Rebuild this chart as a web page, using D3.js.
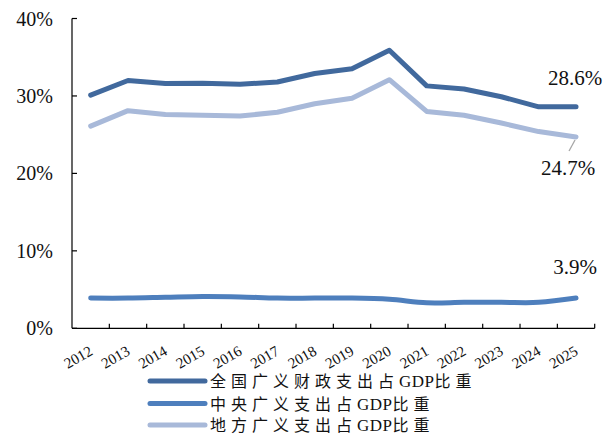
<!DOCTYPE html>
<html>
<head>
<meta charset="utf-8">
<script src="https://cdn.jsdelivr.net/npm/d3@7/dist/d3.min.js"></script>
<style>
  html, body { margin: 0; padding: 0; background: #fff; }
  svg { display: block; }
</style>
</head>
<body>
<svg id="chart" width="612" height="439" font-family="'Liberation Serif', 'DejaVu Serif', serif"></svg>
<script>
// Years on the category axis
const years = ["2012","2013","2014","2015","2016","2017","2018","2019","2020","2021","2022","2023","2024","2025"];

// Share of GDP (%) for each series
const totalSpend   = [30.1, 32.0, 31.6, 31.65, 31.5, 31.8, 32.9, 33.5, 35.9, 31.3, 30.9, 29.9, 28.6, 28.6];
const centralSpend = [3.9, 3.9, 4.0, 4.1, 4.05, 3.9, 3.9, 3.9, 3.75, 3.3, 3.35, 3.35, 3.35, 3.9];
const localSpend   = [26.1, 28.1, 27.6, 27.5, 27.4, 27.9, 29.0, 29.7, 32.1, 28.0, 27.5, 26.5, 25.4, 24.7];

const yTicks = [0, 10, 20, 30, 40];

// Legend names split into runs: CJK runs are spaced out, Latin runs are set tight
const seriesNames = [
  ["全国广义财政支出占", "GDP", "比重"],
  ["中央广义支出占", "GDP", "比重"],
  ["地方广义支出占", "GDP", "比重"]
];
const seriesColors = ["#41699d", "#4e7fbd", "#a8b9d9"];

const serif = "'Liberation Serif', 'Times New Roman', serif";
const cjk = "'Liberation Serif', 'Noto Sans CJK SC', serif";

const svg = d3.select("#chart");

const x = d3.scaleBand().domain(years).range([72, 594.7]);
const y = d3.scaleLinear().domain([0, 40]).range([328.3, 18.5]);
const cx = d => x(d) + x.bandwidth() / 2;

// Y axis: line, inward ticks, percentage labels
const yAxis = svg.append("g");
yAxis.append("line")
  .attr("x1", 72).attr("x2", 72)
  .attr("y1", y(40)).attr("y2", y(0))
  .attr("stroke", "#000").attr("stroke-width", 1.2);
yAxis.selectAll("line.tick").data(yTicks).enter().append("line")
  .attr("class", "tick")
  .attr("x1", 72).attr("x2", 77)
  .attr("y1", d => y(d)).attr("y2", d => y(d))
  .attr("stroke", "#000").attr("stroke-width", 1.2);
yAxis.selectAll("text").data(yTicks).enter().append("text")
  .attr("x", 53).attr("y", d => y(d) + 7)
  .attr("text-anchor", "end")
  .attr("font-family", serif)
  .attr("font-size", 20)
  .attr("fill", "#111")
  .text(d => d + "%");

// X axis: baseline, inward ticks at category boundaries, rotated year labels
const xAxis = svg.append("g");
xAxis.append("line")
  .attr("x1", 72).attr("x2", 594.7)
  .attr("y1", y(0)).attr("y2", y(0))
  .attr("stroke", "#000").attr("stroke-width", 1.2);
const boundaries = years.map(d => x(d) + x.bandwidth());
xAxis.selectAll("line.tick").data(boundaries).enter().append("line")
  .attr("class", "tick")
  .attr("x1", d => d).attr("x2", d => d)
  .attr("y1", y(0)).attr("y2", y(0) - 4.5)
  .attr("stroke", "#000").attr("stroke-width", 1.2);
xAxis.selectAll("text").data(years).enter().append("text")
  .attr("text-anchor", "end")
  .attr("font-family", serif)
  .attr("font-size", 15)
  .attr("fill", "#111")
  .attr("transform", d => `translate(${cx(d) + 3},${354}) rotate(-30)`)
  .text(d => d);

// Series lines
const straight = d3.line().x((v, i) => cx(years[i])).y(v => y(v));
const smooth = d3.line().x((v, i) => cx(years[i])).y(v => y(v)).curve(d3.curveCatmullRom.alpha(0.5));

const plot = svg.append("g");
plot.append("path").datum(localSpend)
  .attr("d", straight).attr("fill", "none")
  .attr("stroke", seriesColors[2]).attr("stroke-width", 5)
  .attr("stroke-linecap", "round").attr("stroke-linejoin", "round");
plot.append("path").datum(totalSpend)
  .attr("d", straight).attr("fill", "none")
  .attr("stroke", seriesColors[0]).attr("stroke-width", 5)
  .attr("stroke-linecap", "round").attr("stroke-linejoin", "round");
plot.append("path").datum(centralSpend)
  .attr("d", smooth).attr("fill", "none")
  .attr("stroke", seriesColors[1]).attr("stroke-width", 5)
  .attr("stroke-linecap", "round").attr("stroke-linejoin", "round");

// End-of-series value labels
const last = years.length - 1;
const lx = cx(years[last]);
const valueLabel = (xp, yp, txt) => svg.append("text")
  .attr("x", xp).attr("y", yp)
  .attr("text-anchor", "middle")
  .attr("font-family", serif)
  .attr("font-size", 21)
  .attr("fill", "#111")
  .text(txt);
valueLabel(lx - 1, y(totalSpend[last]) - 22, totalSpend[last].toFixed(1) + "%");
valueLabel(lx - 1, y(centralSpend[last]) - 24, centralSpend[last].toFixed(1) + "%");
svg.append("line")
  .attr("x1", lx - 1).attr("y1", y(localSpend[last]) + 3)
  .attr("x2", lx - 7).attr("y2", y(localSpend[last]) + 14)
  .attr("stroke", "#a6a6a6").attr("stroke-width", 1.3);
valueLabel(lx - 8, y(localSpend[last]) + 38, localSpend[last].toFixed(1) + "%");

// Legend
const legendY = [381, 403.5, 425];
const legend = svg.append("g");
seriesNames.forEach((parts, i) => {
  legend.append("line")
    .attr("x1", 150).attr("x2", 205)
    .attr("y1", legendY[i]).attr("y2", legendY[i])
    .attr("stroke", seriesColors[i]).attr("stroke-width", 5)
    .attr("stroke-linecap", "round");
  const t = legend.append("text")
    .attr("x", 210).attr("y", legendY[i] + 6)
    .attr("font-family", cjk)
    .attr("font-size", 16)
    .attr("fill", "#111");
  t.append("tspan").attr("letter-spacing", 5).text(parts[0]);
  t.append("tspan").attr("letter-spacing", 0.5).attr("font-size", 17).text(parts[1]);
  t.append("tspan").attr("letter-spacing", 5).text(parts[2]);
});
</script>
</body>
</html>
